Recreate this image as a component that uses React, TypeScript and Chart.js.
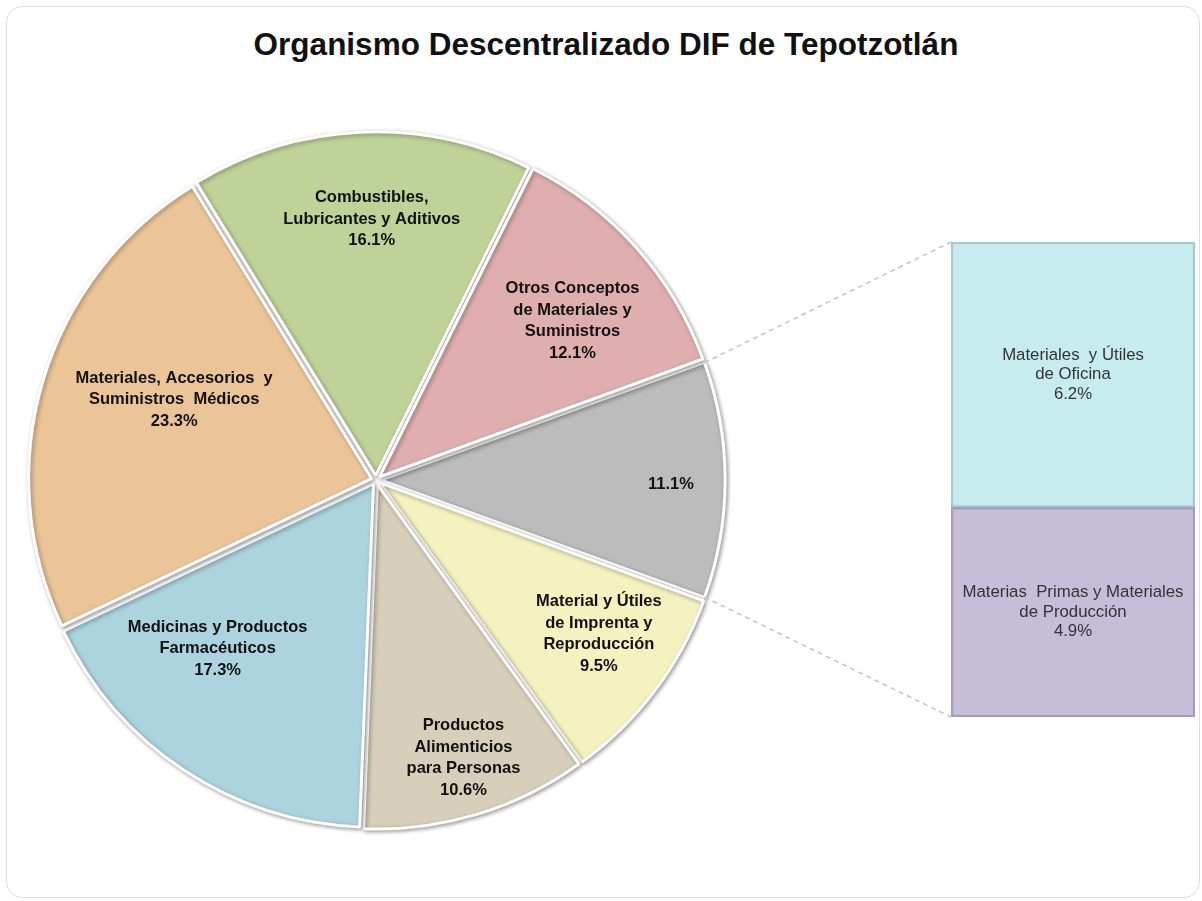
import React, { useEffect, useRef } from 'react';
import { Chart, registerables } from 'chart.js';

Chart.register(...registerables);

// ---------- data ----------
const TITLE = 'Organismo Descentralizado DIF de Tepotzotlán';

const PIE_CATEGORIES: string[][] = [
  ['Otros'],
  ['Material y Útiles', 'de Imprenta y', 'Reproducción'],
  ['Productos', 'Alimenticios', 'para Personas'],
  ['Medicinas y Productos', 'Farmacéuticos'],
  ['Materiales, Accesorios  y', 'Suministros  Médicos'],
  ['Combustibles,', 'Lubricantes y Aditivos'],
  ['Otros Conceptos', 'de Materiales y', 'Suministros'],
];
const PIE_VALUES = [11.1, 9.5, 10.6, 17.3, 23.3, 16.1, 12.1];
const SPLIT_INDEX = 0; // slice broken out into the bar

const BAR_CATEGORIES: string[][] = [
  ['Materias  Primas y Materiales', 'de Producción'],
  ['Materiales  y Útiles', 'de Oficina'],
];
const BAR_VALUES = [4.9, 6.2];

// ---------- styles ----------
const PIE_COLORS = ['#b9b9b9', '#f4f2be', '#d7cfba', '#acd4df', '#ebc498', '#bfd298', '#dfaeae'];
// [radius fraction, angle nudge in degrees] for label placement
const PIE_LABEL_PLACE = [
  [0.86, 0.8],
  [0.79, -2.4],
  [0.85, -0.7],
  [0.675, 9.7],
  [0.633, 5.1],
  [0.76, 1.6],
  [0.737, 2.8],
];
const BAR_COLORS = ['#c6bdd8', '#c7ecef'];
const BAR_BORDERS = ['#a69cb8', '#a3cacd'];
const FONT_FAMILY = '"Liberation Sans", Arial, sans-serif';

const fmt = (v: number) => v.toFixed(1) + '%';

export default function App() {
  const pieRef = useRef<HTMLCanvasElement | null>(null);
  const barRef = useRef<HTMLCanvasElement | null>(null);

  useEffect(() => {
    if (!pieRef.current || !barRef.current) return;

    // dotted texture for the split slice
    const pc = document.createElement('canvas');
    pc.width = 4;
    pc.height = 4;
    const pctx = pc.getContext('2d')!;
    pctx.fillStyle = '#bebebe';
    pctx.fillRect(0, 0, 4, 4);
    pctx.fillStyle = '#b1b1b1';
    pctx.fillRect(0, 0, 1, 1);
    pctx.fillRect(2, 2, 1, 1);
    const pattern = pieRef.current.getContext('2d')!.createPattern(pc, 'repeat');
    const pieColors: any[] = PIE_COLORS.map((c, i) => (i === SPLIT_INDEX && pattern ? pattern : c));

    const barTotal = BAR_VALUES.reduce((a, b) => a + b, 0);

    const barLabelPlugin = {
      id: 'barLabels',
      afterDatasetsDraw(chart: any) {
        const ctx = chart.ctx;
        ctx.save();
        ctx.font = '16.8px ' + FONT_FAMILY;
        ctx.fillStyle = '#333333';
        ctx.textAlign = 'center';
        ctx.textBaseline = 'middle';
        BAR_VALUES.forEach((v, i) => {
          const el = chart.getDatasetMeta(i).data[0];
          const lines = [...BAR_CATEGORIES[i], fmt(v)];
          const lh = 19.5;
          const cy = (el.y + el.base) / 2;
          const y0 = cy - ((lines.length - 1) * lh) / 2;
          lines.forEach((t, k) => ctx.fillText(t, el.x, y0 + k * lh));
        });
        ctx.restore();
      },
    };

    const barChart = new Chart(barRef.current, {
      type: 'bar',
      data: {
        labels: ['Otros'],
        datasets: BAR_VALUES.map((v, i) => ({
          label: BAR_CATEGORIES[i].join(' '),
          data: [v],
          backgroundColor: BAR_COLORS[i],
          borderColor: BAR_BORDERS[i],
          borderWidth: 2.5,
          borderSkipped: false,
          barPercentage: 1,
          categoryPercentage: 1,
        })),
      },
      options: {
        responsive: false,
        animation: false,
        layout: { padding: 3 },
        plugins: { legend: { display: false }, tooltip: { enabled: false } },
        scales: {
          x: { stacked: true, display: false },
          y: { stacked: true, display: false, min: 0, max: barTotal },
        },
      },
      plugins: [barLabelPlugin],
    } as any);

    const piePlugin = {
      id: 'pieExtras',
      beforeDatasetsDraw(chart: any) {
        const ctx = chart.ctx;
        ctx.save();
        ctx.shadowColor = 'rgba(0,0,0,0.35)';
        ctx.shadowBlur = 4;
        ctx.shadowOffsetX = 1.5;
        ctx.shadowOffsetY = 1.5;
      },
      afterDatasetsDraw(chart: any) {
        const ctx = chart.ctx;
        ctx.restore();
        const meta = chart.getDatasetMeta(0);

        // labels
        ctx.save();
        ctx.font = 'bold 16.5px ' + FONT_FAMILY;
        ctx.fillStyle = '#111111';
        ctx.textAlign = 'center';
        ctx.textBaseline = 'middle';
        meta.data.forEach((arc: any, i: number) => {
          const [f, nudge] = PIE_LABEL_PLACE[i];
          const mid = (arc.startAngle + arc.endAngle) / 2 + (nudge * Math.PI) / 180;
          const r = f * arc.outerRadius;
          const cx = arc.x + Math.cos(mid) * r;
          const cy = arc.y + Math.sin(mid) * r;
          const lines = i === SPLIT_INDEX ? [fmt(PIE_VALUES[i])] : [...PIE_CATEGORIES[i], fmt(PIE_VALUES[i])];
          const lh = 21.5;
          const y0 = cy - ((lines.length - 1) * lh) / 2;
          lines.forEach((t, k) => ctx.fillText(t, cx, y0 + k * lh));
        });
        ctx.restore();

        // connector lines from split slice to the bar
        const pr = chart.canvas.getBoundingClientRect();
        const br = barChart.canvas.getBoundingClientRect();
        const ox = br.left - pr.left;
        const oy = br.top - pr.top;
        const topEl: any = barChart.getDatasetMeta(BAR_VALUES.length - 1).data[0];
        const botEl: any = barChart.getDatasetMeta(0).data[0];
        const leftX = ox + topEl.x - topEl.width / 2;
        const topY = oy + topEl.y;
        const botY = oy + botEl.base;

        const arc: any = meta.data[SPLIT_INDEX];
        const off = (arc.options.offset || 0) / 4;
        const circ = arc.endAngle - arc.startAngle;
        const t = off * (2 - Math.sin(Math.min(Math.PI, circ)));
        const half = (arc.startAngle + arc.endAngle) / 2;
        const bx = arc.x + Math.cos(half) * t;
        const by = arc.y + Math.sin(half) * t;
        const R = arc.outerRadius;
        const p1 = [bx + Math.cos(arc.startAngle) * R, by + Math.sin(arc.startAngle) * R];
        const p2 = [bx + Math.cos(arc.endAngle) * R, by + Math.sin(arc.endAngle) * R];

        ctx.save();
        ctx.strokeStyle = '#c4c4c4';
        ctx.lineWidth = 1.5;
        ctx.setLineDash([5, 4]);
        ctx.beginPath();
        ctx.moveTo(p1[0], p1[1]);
        ctx.lineTo(leftX, topY);
        ctx.moveTo(p2[0], p2[1]);
        ctx.lineTo(leftX, botY);
        ctx.stroke();
        ctx.restore();
      },
    };

    const pieChart = new Chart(pieRef.current, {
      type: 'pie',
      data: {
        labels: PIE_CATEGORIES.map((c) => c.join(' ')),
        datasets: [
          {
            data: PIE_VALUES,
            backgroundColor: pieColors,
            borderColor: '#ffffff',
            borderWidth: 3,
            offset: 18,
          },
        ],
      },
      options: {
        responsive: false,
        animation: false,
        rotation: 70,
        radius: 343,
        layout: { padding: { left: 16, right: 466, top: 120, bottom: 61 } },
        plugins: { legend: { display: false }, tooltip: { enabled: false } },
      },
      plugins: [piePlugin],
    } as any);

    return () => {
      pieChart.destroy();
      barChart.destroy();
    };
  }, []);

  return (
    <div
      style={{
        position: 'absolute',
        left: 0,
        top: 0,
        width: 1202,
        height: 901,
        overflow: 'hidden',
        background: '#ffffff',
      }}
    >
      <div
        style={{
          position: 'absolute',
          left: 6,
          top: 6,
          width: 1194,
          height: 892,
          boxSizing: 'border-box',
          border: '1.5px solid #dedede',
          borderRadius: 16,
        }}
      />
      <div
        style={{
          position: 'absolute',
          left: 10,
          top: 24,
          width: 1192,
          textAlign: 'center',
          font: 'bold 31.5px ' + FONT_FAMILY,
          lineHeight: '40px',
          color: '#111111',
          whiteSpace: 'nowrap',
        }}
      >
        {TITLE}
      </div>
      <canvas
        ref={pieRef}
        width={1202}
        height={901}
        style={{ position: 'absolute', left: 0, top: 0, width: 1202, height: 901 }}
      />
      <canvas
        ref={barRef}
        width={250}
        height={481}
        style={{ position: 'absolute', left: 948, top: 239, width: 250, height: 481 }}
      />
    </div>
  );
}
